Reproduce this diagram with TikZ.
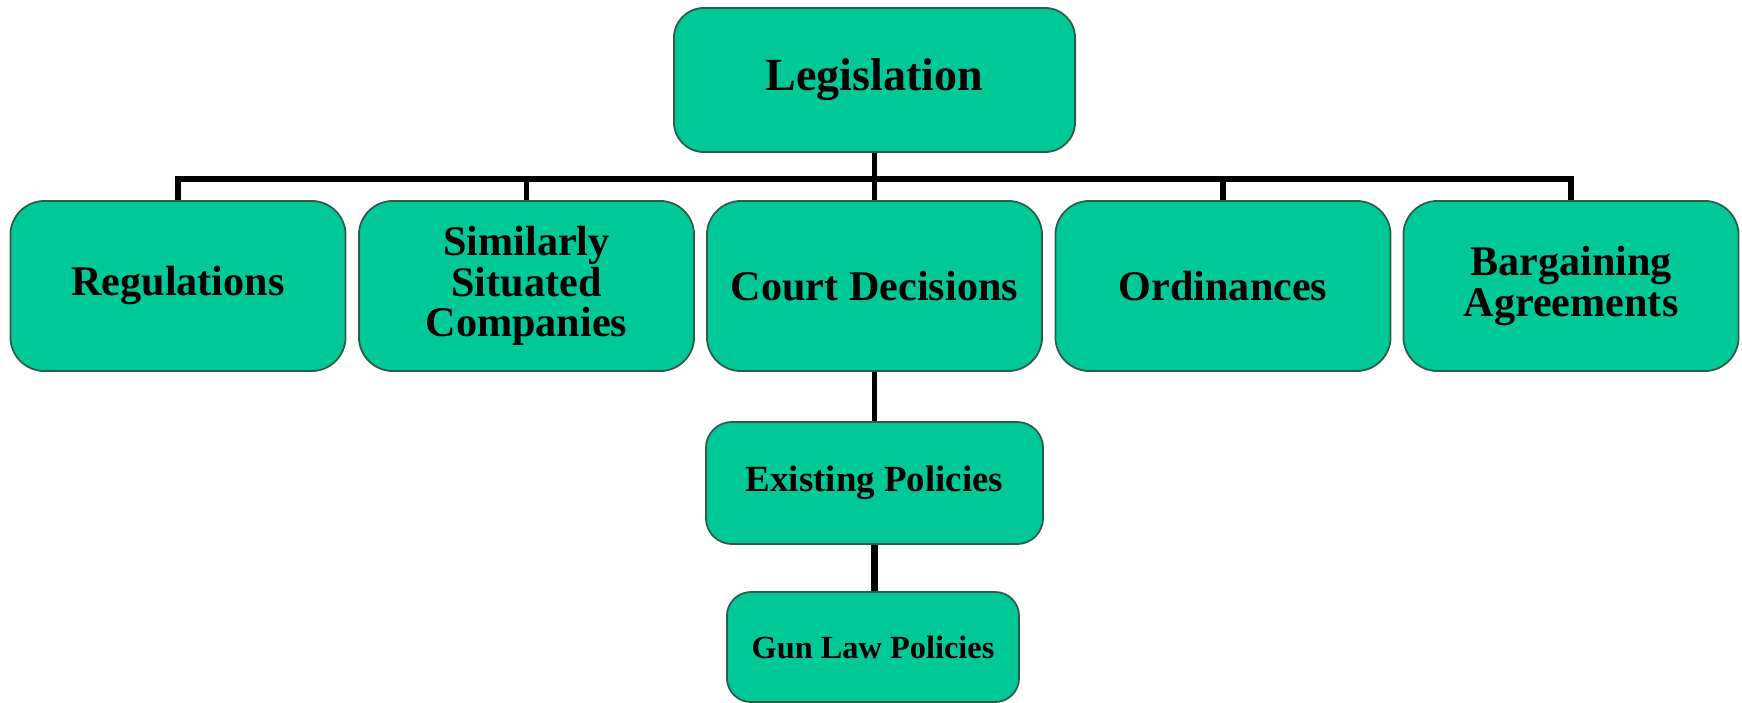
\documentclass[tikz,border=0pt]{standalone}
\usepackage{fontspec}
\setmainfont{Liberation Serif}
\usepackage{xcolor}
\definecolor{BoxGreen}{HTML}{00C997}
\definecolor{BoxEdge}{HTML}{2F5A4E}
\usetikzlibrary{positioning}
\tikzset{
  % Box styles
  topbox/.style={rectangle, rounded corners=0.3cm, draw=BoxEdge, line width=0.5pt, fill=BoxGreen, minimum width=4.01cm, minimum height=1.44cm, font=\fontsize{13.1}{15}\selectfont\bfseries, align=center},
  rowbox/.style={rectangle, rounded corners=0.34cm, draw=BoxEdge, line width=0.5pt, fill=BoxGreen, minimum width=3.35cm, minimum height=1.70cm, font=\fontsize{12}{11.5}\selectfont\bfseries, align=center},
  policybox/.style={rectangle, rounded corners=0.26cm, draw=BoxEdge, line width=0.5pt, fill=BoxGreen, minimum width=3.37cm, minimum height=1.22cm, font=\fontsize{10.5}{12}\selectfont\bfseries, align=center},
  gunbox/.style={rectangle, rounded corners=0.24cm, draw=BoxEdge, line width=0.5pt, fill=BoxGreen, minimum width=2.92cm, minimum height=1.10cm, font=\fontsize{9.2}{11}\selectfont\bfseries, align=center},
  % Line styles
  conn/.style={line width=1.6pt, black},
  thinconn/.style={line width=1.2pt, black},
  thickconn/.style={line width=2pt, black}
}
\begin{document}
\begin{tikzpicture}[x=0.01cm, y=-0.01cm]
  \useasboundingbox (0,0) rectangle (1742,703);

  % Top node
  \node[topbox] (leg) at (874.5,80) {Legislation};

  % Row of sources
  \foreach \name/\x/\label in {reg/178/Regulations, sim/526.5/{Similarly\\Situated\\Companies}, court/874.5/Court Decisions, ord/1223/Ordinances, barg/1571/{Bargaining\\Agreements}} {
    \node[rowbox] (\name) at (\x,286) {\label};
  }

  % Tree lines
  \foreach \name in {reg, sim, court, ord, barg} {
    \draw[conn] (leg.south) -- ++(0,26) -| (\name.north);
  }

  % Lower chain
  \node[policybox] (exist) at (874.5,483) {Existing Policies};
  \node[gunbox] (gun) at (873,647) {Gun Law Policies};
  \draw[thinconn] (court.south) -- (exist.north);
  \draw[thickconn] (exist.south) -- (exist.south |- gun.north);
\end{tikzpicture}
\end{document}
